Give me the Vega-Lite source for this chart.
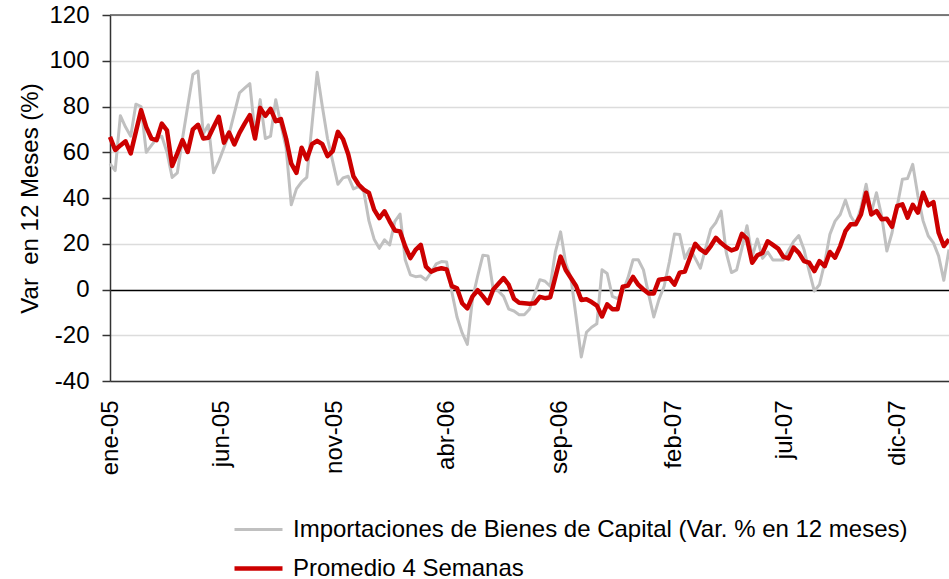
{
"$schema": "https://vega.github.io/schema/vega-lite/v6.json",
"width": 839, "height": 366,
"autosize": {"type": "none"},
"padding": {"left": 110, "top": 15, "right": 0, "bottom": 198},
"background": "white",
"config": {"font": "Liberation Sans", "view": {"stroke": null}},
"data": {"values": [
{"fecha":"2005-01-01","imp":55,"prom":66.7},
{"fecha":"2005-01-08","imp":52,"prom":61},
{"fecha":"2005-01-15","imp":76,"prom":63},
{"fecha":"2005-01-22","imp":71,"prom":64.8},
{"fecha":"2005-01-29","imp":67,"prom":59.5},
{"fecha":"2005-02-05","imp":81,"prom":69},
{"fecha":"2005-02-12","imp":80,"prom":78.4},
{"fecha":"2005-02-19","imp":60,"prom":71},
{"fecha":"2005-02-26","imp":63,"prom":66},
{"fecha":"2005-03-05","imp":66,"prom":65.3},
{"fecha":"2005-03-12","imp":67,"prom":72.5},
{"fecha":"2005-03-19","imp":60,"prom":69.6},
{"fecha":"2005-03-26","imp":49,"prom":54},
{"fecha":"2005-04-02","imp":51,"prom":59.5},
{"fecha":"2005-04-09","imp":66,"prom":65.3},
{"fecha":"2005-04-16","imp":80,"prom":60.1},
{"fecha":"2005-04-23","imp":94,"prom":70},
{"fecha":"2005-04-30","imp":95.5,"prom":72},
{"fecha":"2005-05-07","imp":68,"prom":66},
{"fecha":"2005-05-14","imp":72,"prom":66.3},
{"fecha":"2005-05-21","imp":51,"prom":71},
{"fecha":"2005-05-28","imp":56,"prom":75.5},
{"fecha":"2005-06-04","imp":62,"prom":64.2},
{"fecha":"2005-06-11","imp":68,"prom":68.6},
{"fecha":"2005-06-18","imp":77,"prom":63.4},
{"fecha":"2005-06-25","imp":86,"prom":68.5},
{"fecha":"2005-07-02","imp":88,"prom":72.5},
{"fecha":"2005-07-09","imp":90,"prom":76.2},
{"fecha":"2005-07-16","imp":68,"prom":66},
{"fecha":"2005-07-23","imp":83,"prom":79.4},
{"fecha":"2005-07-30","imp":66,"prom":75.9},
{"fecha":"2005-08-06","imp":67,"prom":79},
{"fecha":"2005-08-13","imp":83,"prom":73.6},
{"fecha":"2005-08-20","imp":72,"prom":74.5},
{"fecha":"2005-08-27","imp":62,"prom":66},
{"fecha":"2005-09-03","imp":37,"prom":55},
{"fecha":"2005-09-10","imp":44,"prom":51},
{"fecha":"2005-09-17","imp":47,"prom":62},
{"fecha":"2005-09-24","imp":49,"prom":57},
{"fecha":"2005-10-01","imp":72,"prom":63.5},
{"fecha":"2005-10-08","imp":95,"prom":65},
{"fecha":"2005-10-15","imp":80,"prom":63.5},
{"fecha":"2005-10-22","imp":66,"prom":58.3},
{"fecha":"2005-10-29","imp":56,"prom":60.5},
{"fecha":"2005-11-05","imp":46,"prom":68.9},
{"fecha":"2005-11-12","imp":48.8,"prom":65.7},
{"fecha":"2005-11-19","imp":49.5,"prom":59.1},
{"fecha":"2005-11-26","imp":44,"prom":49.5},
{"fecha":"2005-12-03","imp":45,"prom":45.9},
{"fecha":"2005-12-10","imp":43,"prom":43.7},
{"fecha":"2005-12-17","imp":30,"prom":42.2},
{"fecha":"2005-12-24","imp":22,"prom":34.9},
{"fecha":"2005-12-31","imp":18,"prom":31.2},
{"fecha":"2006-01-07","imp":21.7,"prom":34.2},
{"fecha":"2006-01-14","imp":19.5,"prom":29.8},
{"fecha":"2006-01-21","imp":29.8,"prom":25.8},
{"fecha":"2006-01-28","imp":33,"prom":25.4},
{"fecha":"2006-02-04","imp":13,"prom":18.8},
{"fecha":"2006-02-11","imp":6.4,"prom":13.7},
{"fecha":"2006-02-18","imp":5.6,"prom":17.3},
{"fecha":"2006-02-25","imp":5.9,"prom":19.5},
{"fecha":"2006-03-04","imp":4.2,"prom":10},
{"fecha":"2006-03-11","imp":7.4,"prom":7.8},
{"fecha":"2006-03-18","imp":11.2,"prom":8.8},
{"fecha":"2006-03-25","imp":12.2,"prom":9.3},
{"fecha":"2006-04-01","imp":12,"prom":8.8},
{"fecha":"2006-04-08","imp":-1,"prom":1.5},
{"fecha":"2006-04-15","imp":-12,"prom":0.5},
{"fecha":"2006-04-22","imp":-19,"prom":-6},
{"fecha":"2006-04-29","imp":-24,"prom":-8.3},
{"fecha":"2006-05-06","imp":-4,"prom":-3},
{"fecha":"2006-05-13","imp":6,"prom":-0.3},
{"fecha":"2006-05-20","imp":15,"prom":-3},
{"fecha":"2006-05-27","imp":14.7,"prom":-6},
{"fecha":"2006-06-03","imp":0,"prom":0},
{"fecha":"2006-06-10","imp":-0.7,"prom":2.5},
{"fecha":"2006-06-17","imp":-3,"prom":5},
{"fecha":"2006-06-24","imp":-8.6,"prom":2},
{"fecha":"2006-07-01","imp":-9.4,"prom":-4},
{"fecha":"2006-07-08","imp":-11,"prom":-5.8},
{"fecha":"2006-07-15","imp":-11,"prom":-6},
{"fecha":"2006-07-22","imp":-8.6,"prom":-6.2},
{"fecha":"2006-07-29","imp":-2,"prom":-6},
{"fecha":"2006-08-05","imp":4.3,"prom":-3.2},
{"fecha":"2006-08-12","imp":3.6,"prom":-3.8},
{"fecha":"2006-08-19","imp":1.4,"prom":-3.4},
{"fecha":"2006-08-26","imp":16.5,"prom":5.5},
{"fecha":"2006-09-02","imp":25.2,"prom":14.4},
{"fecha":"2006-09-09","imp":11.5,"prom":8.5},
{"fecha":"2006-09-16","imp":5,"prom":5},
{"fecha":"2006-09-23","imp":-12,"prom":1.5},
{"fecha":"2006-09-30","imp":-29.5,"prom":-4.6},
{"fecha":"2006-10-07","imp":-18.7,"prom":-4.3},
{"fecha":"2006-10-14","imp":-16.5,"prom":-5.5},
{"fecha":"2006-10-21","imp":-15,"prom":-7},
{"fecha":"2006-10-28","imp":8.6,"prom":-11.8},
{"fecha":"2006-11-04","imp":7,"prom":-6.5},
{"fecha":"2006-11-11","imp":-3,"prom":-8.6},
{"fecha":"2006-11-18","imp":-4,"prom":-8.6},
{"fecha":"2006-11-25","imp":-1,"prom":1.2},
{"fecha":"2006-12-02","imp":5,"prom":1.7},
{"fecha":"2006-12-09","imp":13,"prom":5.5},
{"fecha":"2006-12-16","imp":13,"prom":2.1},
{"fecha":"2006-12-23","imp":8.6,"prom":0},
{"fecha":"2006-12-30","imp":-2,"prom":-1.7},
{"fecha":"2007-01-06","imp":-12,"prom":-1.7},
{"fecha":"2007-01-13","imp":-4.3,"prom":4.3},
{"fecha":"2007-01-20","imp":1.4,"prom":4.6},
{"fecha":"2007-01-27","imp":12,"prom":5},
{"fecha":"2007-02-03","imp":24.3,"prom":2.1},
{"fecha":"2007-02-10","imp":24,"prom":7.4},
{"fecha":"2007-02-17","imp":13.6,"prom":7.9},
{"fecha":"2007-02-24","imp":17.9,"prom":14},
{"fecha":"2007-03-03","imp":13.6,"prom":20},
{"fecha":"2007-03-10","imp":9.3,"prom":17.5},
{"fecha":"2007-03-17","imp":18,"prom":16},
{"fecha":"2007-03-24","imp":26.4,"prom":19},
{"fecha":"2007-03-31","imp":29.3,"prom":22.6},
{"fecha":"2007-04-07","imp":34.3,"prom":20.3},
{"fecha":"2007-04-14","imp":16,"prom":18.5},
{"fecha":"2007-04-21","imp":7.4,"prom":17.1},
{"fecha":"2007-04-28","imp":8.6,"prom":17.9},
{"fecha":"2007-05-05","imp":17.9,"prom":24.3},
{"fecha":"2007-05-12","imp":27.9,"prom":22.1},
{"fecha":"2007-05-19","imp":14.3,"prom":11.7},
{"fecha":"2007-05-26","imp":22.1,"prom":15},
{"fecha":"2007-06-02","imp":13.6,"prom":16},
{"fecha":"2007-06-09","imp":16.4,"prom":21.1},
{"fecha":"2007-06-16","imp":12.9,"prom":19.5},
{"fecha":"2007-06-23","imp":12.9,"prom":17.9},
{"fecha":"2007-06-30","imp":12.9,"prom":14.3},
{"fecha":"2007-07-07","imp":17.1,"prom":13.6},
{"fecha":"2007-07-14","imp":21,"prom":18.3},
{"fecha":"2007-07-21","imp":23.6,"prom":16},
{"fecha":"2007-07-28","imp":17.5,"prom":12.4},
{"fecha":"2007-08-04","imp":8,"prom":11.7},
{"fecha":"2007-08-11","imp":-0.7,"prom":8},
{"fecha":"2007-08-18","imp":2.2,"prom":12.4},
{"fecha":"2007-08-25","imp":11.7,"prom":10.2},
{"fecha":"2007-09-01","imp":24.1,"prom":16.4},
{"fecha":"2007-09-08","imp":29.9,"prom":13.9},
{"fecha":"2007-09-15","imp":32.8,"prom":19},
{"fecha":"2007-09-22","imp":39.1,"prom":25.5},
{"fecha":"2007-09-29","imp":32.1,"prom":28.5},
{"fecha":"2007-10-06","imp":28.5,"prom":28.5},
{"fecha":"2007-10-13","imp":35.8,"prom":32.8},
{"fecha":"2007-10-20","imp":46,"prom":42.3},
{"fecha":"2007-10-27","imp":33.6,"prom":32.8},
{"fecha":"2007-11-03","imp":42.3,"prom":34.3},
{"fecha":"2007-11-10","imp":32.1,"prom":30.7},
{"fecha":"2007-11-17","imp":16.8,"prom":30.9},
{"fecha":"2007-11-24","imp":24.8,"prom":27.4},
{"fecha":"2007-12-01","imp":36.5,"prom":36.5},
{"fecha":"2007-12-08","imp":48.2,"prom":37.2},
{"fecha":"2007-12-15","imp":48.5,"prom":31.4},
{"fecha":"2007-12-22","imp":54.7,"prom":37},
{"fecha":"2007-12-29","imp":40.9,"prom":33.6},
{"fecha":"2008-01-05","imp":30,"prom":42.3},
{"fecha":"2008-01-12","imp":23.4,"prom":36.8},
{"fecha":"2008-01-19","imp":20.4,"prom":38.2},
{"fecha":"2008-01-26","imp":14.6,"prom":24.8},
{"fecha":"2008-02-02","imp":4,"prom":19},
{"fecha":"2008-02-09","imp":17.5,"prom":21.9}
]},
"layer": [
{
"data": {"values": [{}]},
"mark": {"type": "rule", "color": "#555555", "strokeWidth": 1.5},
"encoding": {"y": {"datum": 120, "type": "quantitative"}}
},
{
"mark": {"type": "line", "strokeJoin": "round"},
"encoding": {
"x": {"field": "fecha", "type": "temporal", "title": null,
"scale": {"type": "utc", "domain": [{"year": 2005, "month": 1, "date": 1, "utc": true}, {"year": 2008, "month": 2, "date": 9, "utc": true}]},
"axis": {"values": [{"year": 2005, "month": 1, "date": 1, "utc": true}, {"year": 2005, "month": 6, "date": 1, "utc": true}, {"year": 2005, "month": 11, "date": 1, "utc": true}, {"year": 2006, "month": 4, "date": 1, "utc": true}, {"year": 2006, "month": 9, "date": 1, "utc": true}, {"year": 2007, "month": 2, "date": 1, "utc": true}, {"year": 2007, "month": 7, "date": 1, "utc": true}, {"year": 2007, "month": 12, "date": 1, "utc": true}],
"labelExpr": "['ene','feb','mar','abr','may','jun','jul','ago','sep','oct','nov','dic'][utcmonth(datum.value)] + '-' + utcFormat(datum.value, '%y')",
"labelAngle": -90, "labelAlign": "right", "labelBaseline": "middle",
"ticks": true, "tickSize": 0, "labelPadding": 19, "grid": false,
"domainColor": "#333333", "domainWidth": 1.5,
"labelFontSize": 24, "labelColor": "#000000", "labelOverlap": false, "labelFlush": false, "labelBound": false}},
"y": {"field": "imp", "type": "quantitative", "title": "Var\u00a0 en 12 Meses (%)",
"scale": {"domain": [-40, 120], "nice": false, "zero": false},
"axis": {"values": [-40, -20, 0, 20, 40, 60, 80, 100, 120],
"labelExpr": "datum.value + ''",
"grid": true, "gridColor": {"condition": {"test": "datum.value === 0", "value": "#000000"}, "value": "#dcdcdc"}, "gridWidth": 1.5,
"domainColor": "#333333", "domainWidth": 1.5, "tickColor": "#333333", "tickSize": 8, "tickWidth": 1.5,
"labelFontSize": 24, "labelColor": "#000000", "labelPadding": 13,
"titleFontSize": 24, "titleFontWeight": "normal", "titleColor": "#000000",
"titleX": -68, "titleY": 183, "titleAngle": -90, "titleAlign": "center", "titleBaseline": "bottom"}},
"color": {"datum": "Importaciones de Bienes de Capital (Var. % en 12 meses)",
"scale": {"domain": ["Importaciones de Bienes de Capital (Var. % en 12 meses)", "Promedio 4 Semanas"], "range": ["#c0c0c0", "#cc0000"]},
"legend": {"orient": "none", "legendX": 122, "legendY": 489, "title": null, "direction": "vertical",
"symbolType": "stroke", "symbolSize": 2304,
"labelFontSize": 24, "labelColor": "#000000", "labelLimit": 800, "labelOffset": 8, "rowPadding": 0, "padding": 0}},
"strokeWidth": {"datum": "Importaciones de Bienes de Capital (Var. % en 12 meses)",
"scale": {"domain": ["Importaciones de Bienes de Capital (Var. % en 12 meses)", "Promedio 4 Semanas"], "range": [3, 4.5]},
"legend": {"orient": "none", "legendX": 122, "legendY": 489, "title": null, "direction": "vertical",
"symbolType": "stroke", "symbolSize": 2304,
"labelFontSize": 24, "labelColor": "#000000", "labelLimit": 800, "labelOffset": 8, "rowPadding": 0, "padding": 0}}
}
},
{
"mark": {"type": "line", "strokeJoin": "round"},
"encoding": {
"x": {"field": "fecha", "type": "temporal"},
"y": {"field": "prom", "type": "quantitative"},
"color": {"datum": "Promedio 4 Semanas"},
"strokeWidth": {"datum": "Promedio 4 Semanas"}
}
}
]
}
